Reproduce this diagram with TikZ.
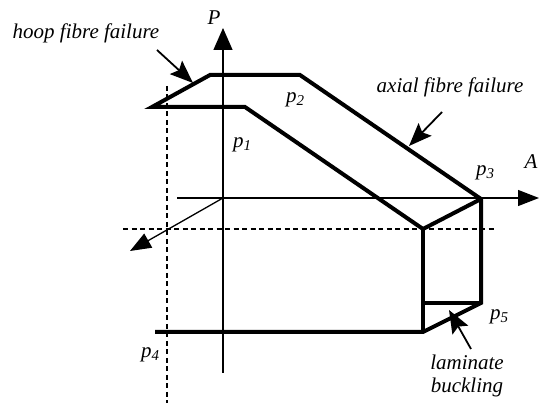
\documentclass[tikz,border=0pt]{standalone}
\usepackage{fontspec}
\setmainfont{Liberation Serif}
\usetikzlibrary{arrows.meta}
\newcommand\pp[1]{\textit{p}\raisebox{-0.3ex}{\fontsize{15}{15}\selectfont #1}}
\begin{document}
\begin{tikzpicture}[x=1pt,y=-1pt,
  thick line/.style={line width=4pt,line join=miter,line cap=butt},
  thin line/.style={line width=1.3pt},
  dash line/.style={line width=2.2pt,dash pattern=on 5pt off 3.5pt},
  big arrow/.style={line width=1.8pt,-{Stealth[length=23pt,width=18pt,inset=4pt]}},
  lbl/.style={font=\fontsize{21}{24}\selectfont\itshape,inner sep=0pt}]
\useasboundingbox (0,0) rectangle (539,403);
% coordinates
\coordinate (O) at (223,198);
\coordinate (Ptop) at (223,28);
\coordinate (Pbot) at (223,373);
\coordinate (Aleft) at (177,198);
\coordinate (Aright) at (539,198);
\coordinate (Z) at (130,251);
\coordinate (L) at (152,107);
\coordinate (T1) at (210,75);
\coordinate (T2) at (300,75);
\coordinate (C3) at (481,199);
\coordinate (C5) at (481,303);
\coordinate (B1) at (423,332);
\coordinate (B0) at (155,332);
\coordinate (I1) at (245,107);
\coordinate (I2) at (423,229);
\coordinate (I3) at (423,303);
\coordinate (DV1) at (167,86);
\coordinate (DV2) at (167,403);
\coordinate (DH1) at (123,229);
\coordinate (DH2) at (494,229);
% dashed lines
\draw[dash line] (DV1) -- (DV2);
\draw[dash line] (DH1) -- (DH2);
% axes
\draw[thin line,-{Triangle[length=22pt,width=19pt]}] (Pbot) -- (Ptop);
\draw[thin line,-{Triangle[length=21pt,width=16pt]}] (Aleft) -- (Aright);
\draw[thin line,-{Triangle[length=21pt,width=16pt]}] (O) -- (Z);
% thick polygon
\draw[thick line] (B0) -- (B1) -- (C5) -- (C3) -- (T2) -- (T1) -- (L) -- (I1) -- (I2) -- (C3);
\draw[thick line] (I2) -- (B1);
\draw[thick line] (I3) -- (C5);
% labels
\node[lbl] (hoop) at (86,33) {hoop fibre failure};
\node[lbl] (axial) at (450,87) {axial fibre failure};
\node[lbl] (lam) at (467,362) {laminate};
\node[lbl] (buck) at (467,387) {buckling};
\node[lbl] (Plab) at (214,18) {P};
\node[lbl] (Alab) at (531,162) {A};
\node[lbl] (p1) at (242,145) {\pp{1}};
\node[lbl] (p2) at (295,100) {\pp{2}};
\node[lbl] (p3) at (485,173) {\pp{3}};
\node[lbl] (p4) at (150,355) {\pp{4}};
\node[lbl] (p5) at (499,317) {\pp{5}};
% pointer arrows
\coordinate (hoopT) at (157,50);
\coordinate (hoopH) at (193,83);
\coordinate (axT) at (442,112);
\coordinate (axH) at (409,146);
\coordinate (lamT) at (471,349);
\coordinate (lamH) at (449,310);
\draw[big arrow] (hoopT) -- (hoopH);
\draw[big arrow] (axT) -- (axH);
\draw[big arrow] (lamT) -- (lamH);
\end{tikzpicture}
\end{document}
